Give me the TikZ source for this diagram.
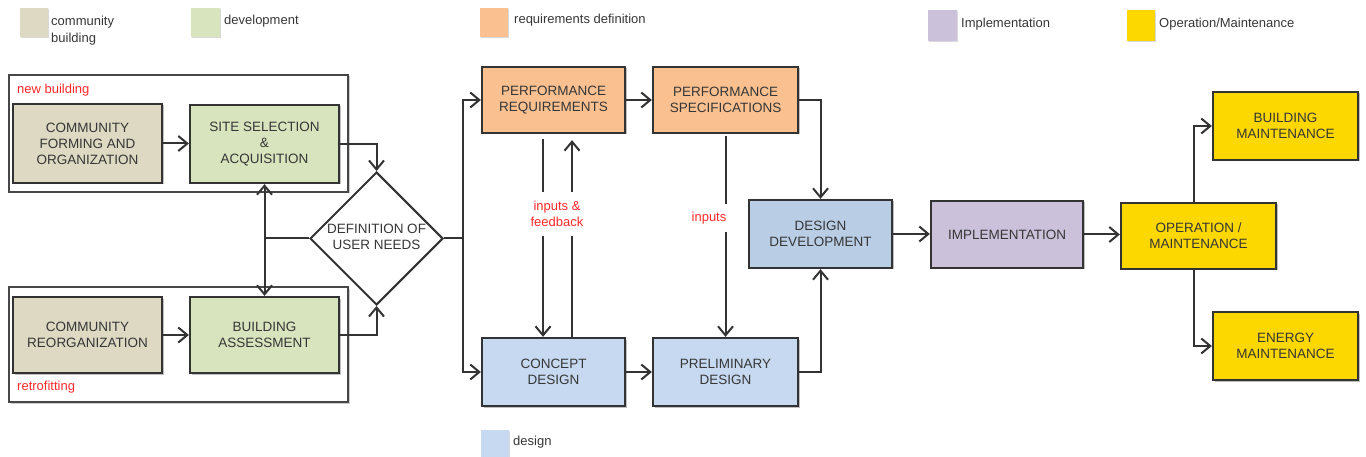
\documentclass[tikz,border=0pt]{standalone}
\usepackage{fontspec}
\setmainfont{Liberation Sans}
\usetikzlibrary{arrows.meta,shapes.geometric,shadows}
\definecolor{comm}{HTML}{DDD9C3}
\definecolor{dev}{HTML}{D7E4BD}
\definecolor{req}{HTML}{FAC090}
\definecolor{des}{HTML}{C6D9F1}
\definecolor{desdk}{HTML}{B9CDE5}
\definecolor{impl}{HTML}{CCC1DA}
\definecolor{oper}{HTML}{FDD700}
\definecolor{boxline}{HTML}{333333}
\definecolor{txt}{HTML}{363636}
\definecolor{lbl}{HTML}{FF2A2A}
\begin{document}
\begin{tikzpicture}[x=1pt,y=-1pt,
  box/.style={draw=boxline, line width=2.3pt, align=center, text=txt,
    font=\fontsize{13.5}{16}\selectfont, inner sep=0pt,
    drop shadow={shadow xshift=1.5pt,shadow yshift=-1.5pt,opacity=0.25,fill=black}},
  group/.style={draw=boxline!90, line width=1.6pt, fill=white, inner sep=0pt,
    drop shadow={shadow xshift=1.5pt,shadow yshift=-1.5pt,opacity=0.2,fill=black}},
  swatch/.style={inner sep=0pt, draw=none,
    drop shadow={shadow xshift=1pt,shadow yshift=-1pt,opacity=0.15,fill=black}},
  legtext/.style={anchor=west, inner sep=0pt, text=txt, align=left,
    font=\fontsize{13}{16.5}\selectfont},
  redlabel/.style={text=lbl, font=\fontsize{13}{16}\selectfont, align=center},
  arr/.style={draw=boxline, line width=2pt,
    -{Straight Barb[length=9pt,width=15pt,line width=2pt]}},
  ln/.style={draw=boxline, line width=2pt}
]
\useasboundingbox (0,0) rectangle (1366,457);

% legend
\node[swatch, fill=comm, minimum width=28, minimum height=29] (lg1) at (34,22.5) {};
\node[legtext] (lgt1) at (51,30.5) {community\\building};
\node[swatch, fill=dev, minimum width=29, minimum height=29] (lg2) at (205.5,22.5) {};
\node[legtext] (lgt2) at (224,21) {development};
\node[swatch, fill=req, minimum width=28, minimum height=29] (lg3) at (494,22.5) {};
\node[legtext] (lgt3) at (514,20) {requirements definition};
\node[swatch, fill=impl, minimum width=29, minimum height=31] (lg4) at (942.5,25.5) {};
\node[legtext] (lgt4) at (961,24) {Implementation};
\node[swatch, fill=oper, minimum width=28, minimum height=31] (lg5) at (1141,25.5) {};
\node[legtext] (lgt5) at (1159,24) {Operation/Maintenance};
\node[swatch, fill=des, minimum width=28, minimum height=27] (lg6) at (495,443.5) {};
\node[legtext] (lgt6) at (513,442) {design};

% group boxes
\node[group, minimum width=339, minimum height=117] (gnew) at (178.5,133.5) {};
\node[group, minimum width=339, minimum height=115] (gret) at (178.5,344.5) {};
\node[redlabel, anchor=west, inner sep=0pt] (lnew) at (17,90) {new building};
\node[redlabel, anchor=west, inner sep=0pt] (lret) at (17,387) {retrofitting};

% boxes
\node[box, fill=comm, minimum width=149, minimum height=79] (cf) at (87.5,143.5) {COMMUNITY\\FORMING AND\\ORGANIZATION};
\node[box, fill=dev, minimum width=149, minimum height=78] (ss) at (264.5,144) {SITE SELECTION\\\&\\ACQUISITION};
\node[box, fill=comm, minimum width=149, minimum height=76] (cr) at (87.5,335) {COMMUNITY\\REORGANIZATION};
\node[box, fill=dev, minimum width=149, minimum height=76] (ba) at (264.5,335) {BUILDING\\ASSESSMENT};

\node[diamond, draw=boxline, line width=2pt, fill=white, minimum width=133, minimum height=133, inner sep=0pt] (dn) at (376.5,238.5) {};
\node[align=center, text=txt, font=\fontsize{13.5}{16}\selectfont, inner sep=0pt] (dntext) at (376.5,237) {DEFINITION OF\\USER NEEDS};

\node[box, fill=req, minimum width=143, minimum height=66] (pr) at (553.5,100) {PERFORMANCE\\REQUIREMENTS};
\node[box, fill=req, minimum width=145, minimum height=66] (ps) at (725.5,100) {PERFORMANCE\\SPECIFICATIONS};
\node[box, fill=des, minimum width=143, minimum height=68] (cd) at (553.5,372) {CONCEPT\\DESIGN};
\node[box, fill=des, minimum width=145, minimum height=68] (pd) at (725.5,372) {PRELIMINARY\\DESIGN};
\node[box, fill=desdk, minimum width=143, minimum height=68] (dd) at (820.5,234) {DESIGN\\DEVELOPMENT};
\node[box, fill=impl, minimum width=152, minimum height=67] (im) at (1007,234.5) {IMPLEMENTATION};
\node[box, fill=oper, minimum width=155, minimum height=66] (om) at (1198.5,236) {OPERATION /\\MAINTENANCE};
\node[box, fill=oper, minimum width=145, minimum height=68] (bm) at (1285.5,126) {BUILDING\\MAINTENANCE};
\node[box, fill=oper, minimum width=145, minimum height=68] (em) at (1285.5,346) {ENERGY\\MAINTENANCE};

% connectors
\coordinate (j2) at (463,238.5);
\draw[arr] (cf.east) -- (cf.east -| ss.west);
\draw[arr] (cr.east) -- (cr.east -| ba.west);
\draw[arr] (ss.east) -| (dn.north);
\draw[arr] (ba.east) -| (dn.south);
\draw[arr] (dn.west) -| (ss.south);
\draw[arr] (dn.west) -| (ba.north);
\draw[ln] (dn.east) -- (j2);
\draw[arr] (j2) |- (pr.west);
\draw[arr] (j2) |- (cd.west);
\draw[arr] (pr.east) -- (pr.east -| ps.west);
\draw[arr] (cd.east) -- (cd.east -| pd.west);
\draw[arr] (ps.east) -| (dd.north);
\draw[arr] (pd.east) -| (dd.south);
\draw[arr] (dd.east) -- (dd.east -| im.west);
\draw[arr] (im.east) -- (im.east -| om.west);
\draw[arr] ([xshift=-4.5pt]om.north) |- (bm.west);
\draw[arr] ([xshift=-4.5pt]om.south) |- (em.west);
\draw[arr, shorten <=5pt] ([xshift=-10.5pt]pr.south) -- ([xshift=-10.5pt]cd.north);
\draw[arr, shorten >=6pt] ([xshift=18.5pt]cd.north) -- ([xshift=18.5pt]pr.south);
\draw[arr, shorten <=2pt] (ps.south) -- (pd.north);

\node[redlabel, fill=white, inner xsep=3pt, inner ysep=9pt] (lfb) at (557,214) {inputs \&\\feedback};
\node[redlabel, fill=white, inner xsep=3pt, inner ysep=8pt] (lin) at (709,218) {inputs};
\end{tikzpicture}
\end{document}
